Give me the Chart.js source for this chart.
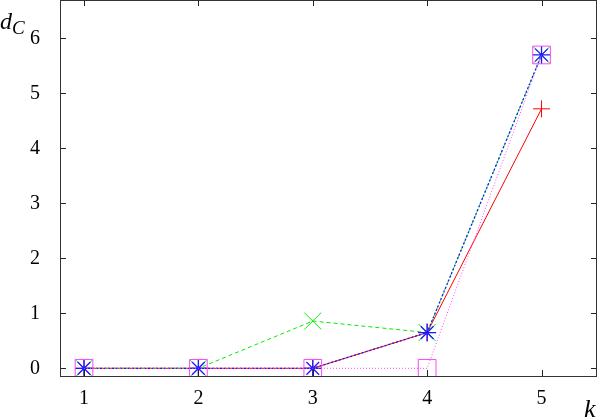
<!DOCTYPE html>
<html><head><meta charset="utf-8">
<script src="https://cdn.jsdelivr.net/npm/chart.js@4/dist/chart.umd.min.js"></script>
<style>html,body{margin:0;padding:0;background:#fff}#wrap{width:599px;height:420px}</style>
</head><body><div id="wrap"><canvas id="c"></canvas></div>
<script>
const kValues = [1, 2, 3, 4, 5];
const seriesRed = [0, 0, 0, 0.65, 4.72];
const seriesGreen = [0, 0, 0.86, 0.65, 5.7];
const seriesBlue = [0, 0, 0, 0.65, 5.7];
const seriesMagenta = [0, 0, 0, 0, 5.7];
const xTicks = [1, 2, 3, 4, 5];
const yTicks = [0, 1, 2, 3, 4, 5, 6];

const pts = arr => kValues.map((k, i) => ({x: k, y: arr[i]}));
const serif = 'Liberation Serif, Times New Roman, serif';

const frame = {
  id: 'frame',
  afterDatasetsDraw(chart) {
    const {ctx, chartArea: a, scales: {x, y}} = chart;
    ctx.save();
    ctx.strokeStyle = '#222';
    ctx.lineWidth = 1;
    ctx.beginPath();
    xTicks.forEach(v => {
      const px = Math.round(x.getPixelForValue(v)) + 0.5;
      ctx.moveTo(px, a.bottom); ctx.lineTo(px, a.bottom - 6);
      ctx.moveTo(px, a.top); ctx.lineTo(px, a.top + 6);
    });
    yTicks.forEach(v => {
      const py = Math.round(y.getPixelForValue(v)) + 0.5;
      ctx.moveTo(a.left, py); ctx.lineTo(a.left + 6, py);
      ctx.moveTo(a.right, py); ctx.lineTo(a.right - 6, py);
    });
    ctx.stroke();
    ctx.strokeStyle = '#333';
    ctx.strokeRect(a.left + 0.5, a.top + 0.5, a.right - a.left - 1, a.bottom - a.top);
    ctx.fillStyle = '#000';
    ctx.font = 'italic 24px ' + serif;
    ctx.textAlign = 'left';
    ctx.textBaseline = 'alphabetic';
    ctx.fillText('d', 0, 29);
    ctx.font = 'italic 19px ' + serif;
    ctx.fillText('C', 12, 34);
    ctx.font = 'italic 26px ' + serif;
    ctx.fillText('k', 584, 417);
    ctx.restore();
  }
};

new Chart(document.getElementById('c'), {
  type: 'scatter',
  data: {
    datasets: [
      {label: 'red', data: pts(seriesRed), showLine: true, borderColor: '#ff0000', backgroundColor: '#ff0000',
       borderWidth: 1, pointStyle: 'cross', pointRadius: 8.5, pointBorderWidth: 1, order: 4},
      {label: 'green', data: pts(seriesGreen), showLine: true, borderColor: '#00ee00', backgroundColor: '#00ee00',
       borderWidth: 1, borderDash: [4, 3], pointStyle: 'crossRot', pointRadius: 12, pointBorderWidth: 1, order: 3},
      {label: 'blue', data: pts(seriesBlue), showLine: true, borderColor: '#1a1aff', backgroundColor: '#1a1aff',
       borderWidth: 1.3, borderDash: [2, 2], pointStyle: 'star', pointRadius: 9, pointBorderWidth: 1.3, order: 2},
      {label: 'magenta', data: pts(seriesMagenta), showLine: true, borderColor: '#ff44ff', backgroundColor: 'rgba(0,0,0,0)',
       borderWidth: 1, borderDash: [1, 2], pointStyle: 'rect', pointRadius: 12.5, pointBorderWidth: 1, order: 1}
    ]
  },
  options: {
    responsive: true, maintainAspectRatio: false, animation: false,
    layout: {autoPadding: false, padding: {left: 0, right: 2, top: 0, bottom: 0}},
    plugins: {legend: {display: false}, tooltip: {enabled: false}},
    scales: {
      x: {
        type: 'linear', min: 0.79, max: 5.485,
        afterBuildTicks: s => { s.ticks = xTicks.map(v => ({value: v})); },
        afterFit: s => { s.height = 44; s.paddingLeft = 0; s.paddingRight = 0; },
        grid: {display: false}, border: {display: false},
        ticks: {color: '#000', font: {family: serif, size: 20}, padding: 3}
      },
      y: {
        type: 'linear', min: -0.14, max: 6.7,
        afterBuildTicks: s => { s.ticks = yTicks.map(v => ({value: v})); },
        afterFit: s => { s.width = 60; s.paddingTop = 0; s.paddingBottom = 0; },
        grid: {display: false}, border: {display: false},
        ticks: {color: '#000', font: {family: serif, size: 20}, padding: 12}
      }
    }
  },
  plugins: [frame]
});
</script></body></html>
